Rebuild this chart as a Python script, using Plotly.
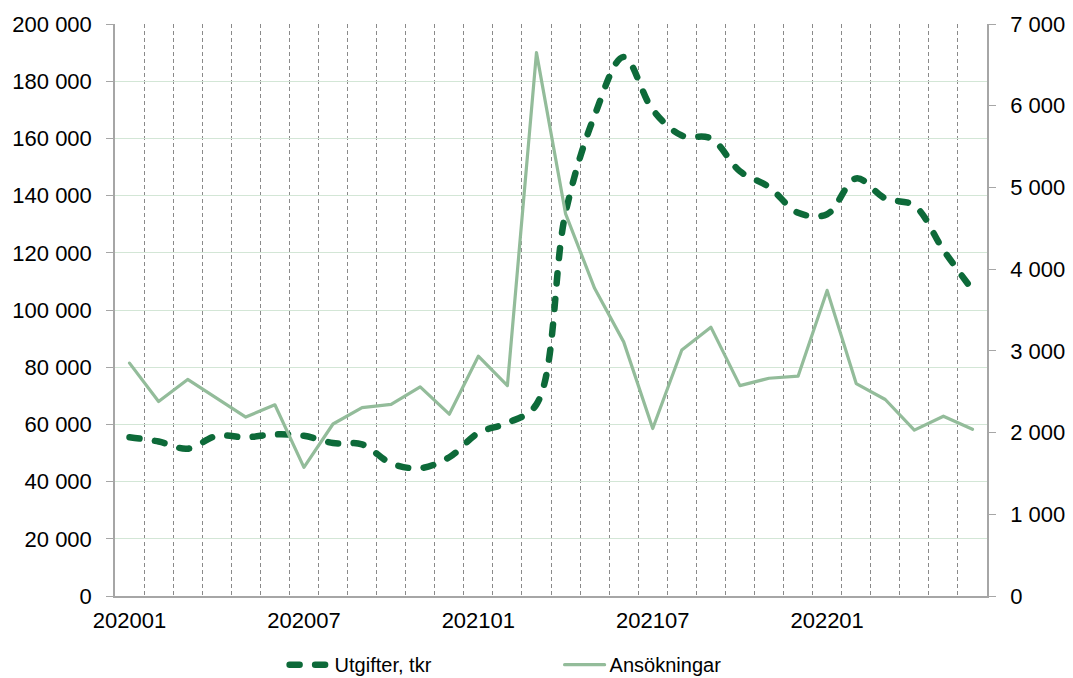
import plotly.graph_objects as go

# Monthly periods (YYYYMM)
months = [
    "202001", "202002", "202003", "202004", "202005", "202006",
    "202007", "202008", "202009", "202010", "202011", "202012",
    "202101", "202102", "202103", "202104", "202105", "202106",
    "202107", "202108", "202109", "202110", "202111", "202112",
    "202201", "202202", "202203", "202204", "202205", "202206",
]
shown_labels = ["202001", "202007", "202101", "202107", "202201"]

# Utgifter, tkr (left axis)
utgifter = [
    55500, 54000, 51500, 56000, 55500, 56500,
    56000, 53500, 53000, 46400, 44700, 48500,
    57000, 60500, 67000, 134000, 168000, 188500,
    170000, 161000, 160000, 148500, 143000, 134000,
    133500, 146000, 139000, 136500, 121000, 107000,
]

# Ansökningar (right axis)
ansokningar = [
    2850, 2380, 2650, 2420, 2190, 2340,
    1575, 2105, 2305, 2345, 2560, 2225,
    2935, 2575, 6650, 4680, 3765, 3110,
    2050, 3010, 3290, 2575, 2665, 2690,
    3740, 2600, 2405, 2030, 2200, 2040,
]

DARK_GREEN = "#0d6a39"
LIGHT_GREEN = "#93bc9a"
AXIS_GRAY = "#a6a6a6"

fig = go.Figure()

fig.add_trace(go.Scatter(
    x=months, y=utgifter, name="Utgifter, tkr",
    mode="lines",
    line=dict(color=DARK_GREEN, width=6.5, dash="10px,15.5px", shape="spline", smoothing=1.0),
    yaxis="y",
))

fig.add_trace(go.Scatter(
    x=months, y=ansokningar, name="Ansökningar",
    mode="lines",
    line=dict(color=LIGHT_GREEN, width=3.2),
    yaxis="y2",
))

ticktext = [m if m in shown_labels else "" for m in months]

fig.update_layout(
    width=1073, height=678,
    margin=dict(l=115, r=86, t=24, b=82, autoexpand=False),
    paper_bgcolor="white", plot_bgcolor="white",
    separators=", ",
    font=dict(family="Liberation Sans, Arial, sans-serif", size=22, color="#000000"),
    showlegend=True,
    legend=dict(
        orientation="h",
        x=0.1945, xanchor="left",
        y=-0.12, yanchor="middle",
        font=dict(size=20),
        entrywidth=220,
        itemwidth=40,
        bgcolor="rgba(0,0,0,0)",
    ),
    xaxis=dict(
        type="category",
        tickmode="array", tickvals=months, ticktext=ticktext,
        tickangle=0,
        tickson="boundaries",
        ticks="",
        ticklabelstandoff=4,
        showgrid=True, gridcolor="#8a8a8a", gridwidth=1, griddash="4px,3px",
        showline=True, linecolor=AXIS_GRAY, linewidth=1.5,
        range=[-0.5, 29.5],
        zeroline=False,
    ),
    yaxis=dict(
        range=[0, 200000], dtick=20000, tick0=0,
        tickformat=",d",
        ticks="outside", ticklen=7, tickcolor=AXIS_GRAY, tickwidth=1.2,
        ticklabelstandoff=10,
        showgrid=True, gridcolor="#d3e6d6", gridwidth=1.2,
        showline=True, linecolor=AXIS_GRAY, linewidth=1.5,
        zeroline=False,
    ),
    yaxis2=dict(
        overlaying="y", side="right",
        range=[0, 7000], dtick=1000, tick0=0,
        tickformat=",d",
        ticks="outside", ticklen=7, tickcolor=AXIS_GRAY, tickwidth=1.2,
        ticklabelstandoff=10,
        showgrid=False,
        showline=True, linecolor=AXIS_GRAY, linewidth=1.5,
        zeroline=False,
    ),
)

# Rounded ends on the series lines (gives the dashes soft caps)
round_caps = """
var capStyle = document.createElement('style');
capStyle.textContent = 'path.js-line { stroke-linecap: round !important; stroke-linejoin: round !important; }';
document.head.appendChild(capStyle);
"""

fig.write_html("out.html", post_script=round_caps)
